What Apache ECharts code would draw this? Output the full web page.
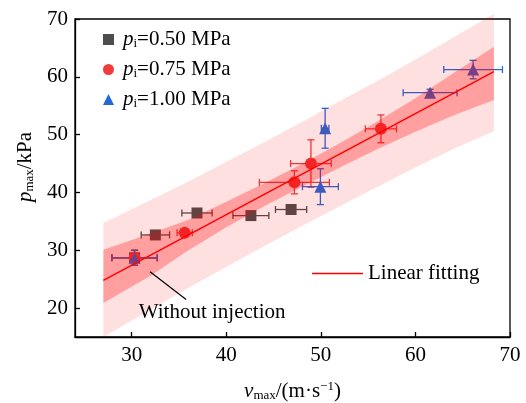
<!DOCTYPE html>
<html>
<head>
<meta charset="utf-8">
<script src="https://cdn.jsdelivr.net/npm/echarts@6/dist/echarts.min.js"></script>
<style>
  html, body { margin: 0; padding: 0; background: #fff; }
  #chart { width: 526px; height: 403px; }
</style>
</head>
<body>
<div id="chart"></div>
<script>
const FONT = '"Liberation Serif", "Times New Roman", serif';
const FS = 21;

// Axis ticks
const xTicks = [30, 40, 50, 60, 70];
const yTicks = [20, 30, 40, 50, 60, 70];

// p_i = 0.50 MPa
const vel050 = [30.3, 32.5, 36.9, 42.6, 46.85];
const pres050 = [28.7, 32.65, 36.45, 36.0, 37.05];
const velErr050 = [2.4, 1.5, 1.6, 1.9, 1.65];
const presErr050 = [1.3, 0.4, 0.4, 0.4, 0.4];

// p_i = 0.75 MPa
const vel075 = [30.3, 35.6, 47.2, 48.95, 56.35];
const pres075 = [28.7, 33.05, 41.75, 45.0, 51.0];
const velErr075 = [2.4, 0.8, 3.7, 2.15, 1.65];
const presErr075 = [1.3, 0.4, 2.0, 4.1, 2.4];

// p_i = 1.00 MPa
const vel100 = [30.3, 49.95, 50.45, 61.55, 66.1];
const pres100 = [28.7, 41.0, 51.1, 57.25, 61.25];
const velErr100 = [2.4, 1.9, 0.4, 2.85, 3.1];
const presErr100 = [1.3, 3.1, 3.45, 0.6, 1.6];

// Linear fit and its confidence / prediction bands
const fitV = [27, 68.3];
const fitP = [24.8, 60.9];
const bandV = [27, 32, 36, 40, 44, 48, 52, 56, 60, 64, 68.3];
const confUpper = [30.1, 32.9, 35.3, 38.4, 41.6, 44.9, 48.5, 52.3, 56.3, 60.6, 65.2];
const confLower = [20.9, 25.6, 30.0, 34.0, 37.6, 41.0, 44.3, 47.5, 50.5, 53.3, 56.0];
const predUpper = [34.7, 38.7, 41.9, 45.3, 48.7, 52.2, 55.8, 59.3, 63.0, 66.8, 70.9];
const predLower = [15.0, 19.7, 23.5, 27.1, 30.7, 34.2, 37.6, 41.0, 44.3, 47.5, 50.6];

// "Without injection" callout (leader line ends, text centre)
const calloutLine = [[31.94, 26.3], [35.75, 21.5]];
const calloutText = [38.5, 19.3];

const zip = (v, p, ve, pe) => v.map((x, i) => [x, p[i], ve[i], pe[i]]);

function errorBars(color) {
  return function (params, api) {
    const v = api.value(0), p = api.value(1), ve = api.value(2), pe = api.value(3);
    const cap = 3.5;
    const style = { stroke: color, lineWidth: 1.3 };
    const kids = [];
    if (ve > 0) {
      const a = api.coord([v - ve, p]), b = api.coord([v + ve, p]);
      kids.push({ type: 'line', shape: { x1: a[0], y1: a[1], x2: b[0], y2: b[1] }, style });
      kids.push({ type: 'line', shape: { x1: a[0], y1: a[1] - cap, x2: a[0], y2: a[1] + cap }, style });
      kids.push({ type: 'line', shape: { x1: b[0], y1: b[1] - cap, x2: b[0], y2: b[1] + cap }, style });
    }
    if (pe > 0) {
      const a = api.coord([v, p - pe]), b = api.coord([v, p + pe]);
      kids.push({ type: 'line', shape: { x1: a[0], y1: a[1], x2: b[0], y2: b[1] }, style });
      kids.push({ type: 'line', shape: { x1: a[0] - cap, y1: a[1], x2: a[0] + cap, y2: a[1] }, style });
      kids.push({ type: 'line', shape: { x1: b[0] - cap, y1: b[1], x2: b[0] + cap, y2: b[1] }, style });
    }
    return { type: 'group', children: kids };
  };
}

function band(upper, lower, fill) {
  return function (params, api) {
    const pts = [];
    bandV.forEach((v, i) => pts.push(api.coord([v, upper[i]])));
    for (let i = bandV.length - 1; i >= 0; i--) pts.push(api.coord([bandV[i], lower[i]]));
    return { type: 'polygon', shape: { points: pts }, style: { fill } };
  };
}

const C050 = '#4d4d4d', C075 = '#f03c3c', C100 = '#2368d8';

const chart = echarts.init(document.getElementById('chart'), null, { renderer: 'canvas' });

const legendRich = {
  it: { fontStyle: 'italic', fontSize: FS, fontFamily: FONT, color: '#000', padding: [0, 0, 0, 4] },
  sub: { fontSize: 13, fontFamily: FONT, color: '#000', padding: [9, 0, 0, 0] }
};

chart.setOption({
  animation: false,
  backgroundColor: '#fff',
  grid: {
    left: 75, right: 16, top: 19, bottom: 66,
    outerBoundsMode: 'none', containLabel: false,
    show: true, borderColor: '#000', borderWidth: 1.3
  },
  legend: [
    {
      data: ['pi=0.50 MPa', 'pi=0.75 MPa', 'pi=1.00 MPa'],
      orient: 'vertical', left: 103, top: 29, padding: 0,
      itemWidth: 11, itemHeight: 11, itemGap: 8.5,
      formatter: n => '{it|p}{sub|i}' + n.slice(2),
      textStyle: { fontSize: FS, fontFamily: FONT, color: '#000', rich: legendRich }
    },
    {
      data: ['Linear fitting'],
      left: 312, top: 263, padding: 0,
      icon: 'rect', itemWidth: 51, itemHeight: 1.5,
      textStyle: { fontSize: FS, fontFamily: FONT, color: '#000' }
    }
  ],
  xAxis: {
    type: 'value', min: 24, max: 70,
    name: '{it|v}{sub|max}/(m·s{sup|−1})',
    nameLocation: 'middle', nameGap: 43,
    nameTextStyle: {
      fontSize: FS, fontFamily: FONT, color: '#000',
      rich: {
        it: { fontStyle: 'italic', fontSize: FS, fontFamily: FONT, color: '#000' },
        sub: { fontSize: 13, fontFamily: FONT, color: '#000', padding: [9, 0, 0, 0] },
        sup: { fontSize: 13, fontFamily: FONT, color: '#000', padding: [0, 0, 9, 0] }
      }
    },
    axisLine: { show: true, lineStyle: { color: '#000', width: 1.3 } },
    axisTick: { show: true, inside: true, length: 5, customValues: xTicks, lineStyle: { color: '#000', width: 1.3 } },
    axisLabel: { customValues: xTicks, fontSize: FS, fontFamily: FONT, color: '#000', margin: 8 },
    splitLine: { show: false }
  },
  yAxis: {
    type: 'value', min: 15, max: 70,
    name: '{it|p}{sub|max}/kPa',
    nameLocation: 'middle', nameGap: 38,
    nameTextStyle: {
      fontSize: FS, fontFamily: FONT, color: '#000', padding: [0, 0, 0, 22],
      rich: {
        it: { fontStyle: 'italic', fontSize: FS, fontFamily: FONT, color: '#000' },
        sub: { fontSize: 13, fontFamily: FONT, color: '#000', padding: [9, 0, 0, 0] }
      }
    },
    axisLine: { show: true, lineStyle: { color: '#000', width: 1.3 } },
    axisTick: { show: true, inside: true, length: 5, customValues: yTicks, lineStyle: { color: '#000', width: 1.3 } },
    axisLabel: { customValues: yTicks, fontSize: FS, fontFamily: FONT, color: '#000', margin: 7 },
    splitLine: { show: false }
  },
  series: [
    { type: 'custom', name: 'err050', z: 2, renderItem: errorBars(C050), data: zip(vel050, pres050, velErr050, presErr050), encode: { x: 0, y: 1 } },
    { type: 'scatter', name: 'pi=0.50 MPa', z: 2, symbol: 'rect', symbolSize: 11, itemStyle: { color: C050, opacity: 1 }, data: vel050.map((v, i) => [v, pres050[i]]) },
    { type: 'custom', name: 'err075', z: 2, renderItem: errorBars(C075), data: zip(vel075, pres075, velErr075, presErr075), encode: { x: 0, y: 1 } },
    { type: 'scatter', name: 'pi=0.75 MPa', z: 2, symbol: 'circle', symbolSize: 12, itemStyle: { color: C075, opacity: 1 }, data: vel075.map((v, i) => [v, pres075[i]]) },
    { type: 'custom', name: 'err100', z: 2, renderItem: errorBars(C100), data: zip(vel100, pres100, velErr100, presErr100), encode: { x: 0, y: 1 } },
    { type: 'scatter', name: 'pi=1.00 MPa', z: 2, symbol: 'triangle', symbolSize: 12, itemStyle: { color: C100, opacity: 1 }, data: vel100.map((v, i) => [v, pres100[i]]) },
    { type: 'custom', name: 'prediction', z: 3, clip: false, silent: true, renderItem: band(predUpper, predLower, 'rgba(255,0,0,0.12)'), data: [[bandV[0], predLower[0]]] },
    { type: 'custom', name: 'confidence', z: 3, clip: false, silent: true, renderItem: band(confUpper, confLower, 'rgba(255,0,0,0.29)'), data: [[bandV[0], confLower[0]]] },
    { type: 'line', name: 'Linear fitting', z: 4, showSymbol: false, lineStyle: { color: '#ff0000', width: 1.5 }, itemStyle: { color: '#ff0000' }, data: fitV.map((v, i) => [v, fitP[i]]) },
    {
      type: 'custom', name: 'callout', z: 5, clip: false, silent: true,
      data: [[calloutText[0], calloutText[1]]],
      renderItem: function (params, api) {
        const a = api.coord(calloutLine[0]), b = api.coord(calloutLine[1]);
        const t = api.coord(calloutText);
        return {
          type: 'group',
          children: [
            { type: 'line', shape: { x1: a[0], y1: a[1], x2: b[0], y2: b[1] }, style: { stroke: '#000', lineWidth: 1.2 } },
            { type: 'text', x: t[0], y: t[1], style: { text: 'Without injection', fill: '#000', font: FS + 'px ' + FONT, align: 'center', verticalAlign: 'middle' } }
          ]
        };
      }
    }
  ]
});
</script>
</body>
</html>
